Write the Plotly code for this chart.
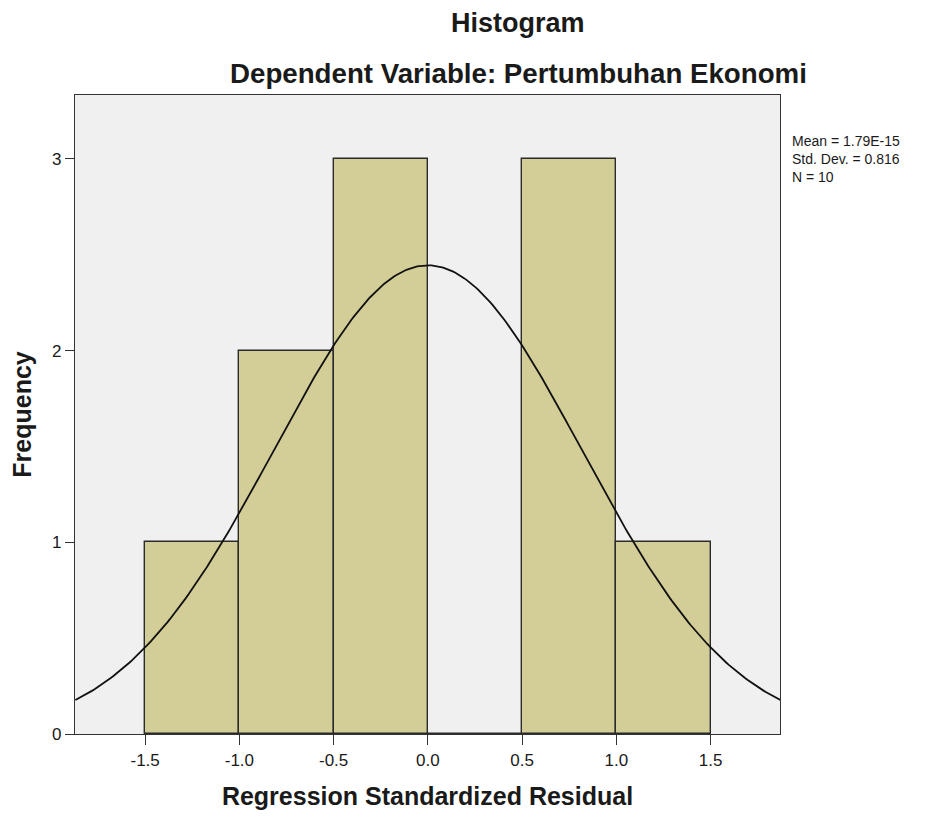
import numpy as np
import plotly.graph_objects as go

bin_starts = [-1.5, -1.0, -0.5, 0.0, 0.5, 1.0]
bin_width = 0.5
frequencies = [1, 2, 3, 0, 3, 1]
stat_mean = 1.79e-15
stat_sd = 0.816
stat_n = 10
stat_lines = ["Mean = 1.79E-15", "Std. Dev. = 0.816", "N = 10"]
x_ticks = [-1.5, -1.0, -0.5, 0.0, 0.5, 1.0, 1.5]
x_tick_labels = ["-1.5", "-1.0", "-0.5", "0.0", "0.5", "1.0", "1.5"]
y_ticks = [0, 1, 2, 3]

centers = [s + bin_width / 2 for s in bin_starts]

fig = go.Figure()
fig.add_trace(go.Bar(
    x=centers, y=frequencies, width=[bin_width] * len(centers),
    marker=dict(color="#d3ce97", line=dict(color="#2b2b2b", width=1.4)),
    hoverinfo="skip", showlegend=False,
))

xs = np.linspace(-1.87, 1.87, 300)
ys = stat_n * bin_width * np.exp(-0.5 * ((xs - stat_mean) / stat_sd) ** 2) / (stat_sd * np.sqrt(2 * np.pi))
fig.add_trace(go.Scatter(x=xs, y=ys, mode="lines", line=dict(color="#111111", width=1.8),
                         hoverinfo="skip", showlegend=False))

font = "Liberation Sans, Arial, sans-serif"
title_x = 0.629
annotations = [
    dict(text="<b>Histogram</b>", xref="paper", yref="paper", x=title_x, y=1,
         yshift=72, showarrow=False, font=dict(size=27), xanchor="center", yanchor="middle"),
    dict(text="<b>Dependent Variable: Pertumbuhan Ekonomi</b>", xref="paper", yref="paper",
         x=title_x, y=1, yshift=22, showarrow=False, font=dict(size=27.7), xanchor="center", yanchor="middle"),
    dict(text="<br>".join(stat_lines), xref="paper", yref="paper", x=1, y=1, xshift=10,
         yshift=-36, showarrow=False, xanchor="left", yanchor="top", align="left",
         font=dict(size=14)),
]

fig.update_layout(
    width=931, height=809,
    margin=dict(l=65, r=159, t=87, b=83),
    paper_bgcolor="white", plot_bgcolor="#f0f0f0",
    font=dict(family=font, color="#1a1a1a"),
    bargap=0,
    xaxis=dict(range=[-1.872, 1.868], tickvals=x_ticks, ticktext=x_tick_labels,
               ticks="outside", ticklen=10, tickcolor="#333", tickwidth=1.4,
               showgrid=False, zeroline=False,
               showline=True, linecolor="#333", linewidth=1.4, mirror=True,
               tickfont=dict(size=17, color="#1a1a1a"),
               title=dict(text="<b>Regression Standardized Residual</b>", font=dict(size=25), standoff=18)),
    yaxis=dict(range=[0, 3.333], tickvals=y_ticks,
               ticks="outside", ticklen=9, tickcolor="#333", tickwidth=1.4,
               showgrid=False, zeroline=False,
               showline=True, linecolor="#333", linewidth=1.4, mirror=True,
               tickfont=dict(size=17, color="#1a1a1a"),
               title=dict(text="<b>Frequency</b>", font=dict(size=25), standoff=14)),
    annotations=annotations,
)
fig.write_html("out.html")
